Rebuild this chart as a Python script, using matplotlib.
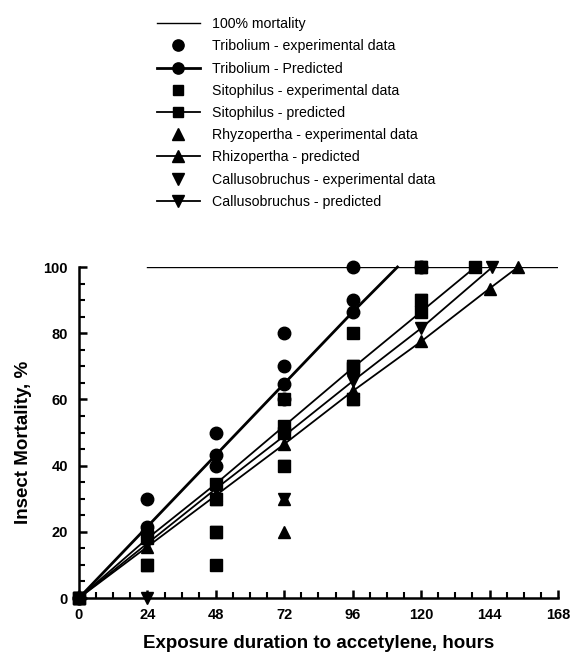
import numpy as np
import matplotlib
matplotlib.use("Agg")
import matplotlib.pyplot as plt
from matplotlib.ticker import MultipleLocator

plt.rcParams['font.family']=['Liberation Sans','DejaVu Sans']

# 100% mortality reference line
full_x=[24,168]
full_y=[100,100]

# experimental data (hours, % mortality)
trib_exp_x=[0,24,24,48,48,72,72,72,96,96,120]
trib_exp_y=[0,30,20,50,40,80,70,60,100,90,100]
sito_exp_x=[0,24,48,48,48,72,72,72,96,96,96,120,120]
sito_exp_y=[0,10,10,20,30,40,50,60,60,70,80,90,100]
rhyz_exp_x=[0,24,48,48,72,72,96,96,120,120]
rhyz_exp_y=[0,10,20,30,20,30,60,70,90,100]
call_exp_x=[0,24,24,48,48,72,72,96,96,120,120]
call_exp_y=[0,0,10,20,30,30,40,60,70,90,100]

# predicted curves
trib_pred_x=[0,24,48,72,96,111.7]
trib_pred_y=[0,21.6,43.2,64.8,86.4,100]
sito_pred_x=[0,24,48,72,96,120,139]
sito_pred_y=[0,18,34.5,52,69.5,86.5,100]
rhyz_pred_x=[0,24,48,72,96,120,144,154]
rhyz_pred_y=[0,15.5,31,46.5,62.5,77.5,93.5,100]
call_pred_x=[0,24,48,72,96,120,145]
call_pred_y=[0,16.5,33,49,65.5,81.5,100]

fig=plt.figure(figsize=(5.72,6.53),dpi=100)
ax=fig.add_axes([79/572,1-598/653,479/572,331/653])

ax.plot(full_x,full_y,color="black",lw=1,label="100% mortality")
ax.plot(trib_exp_x,trib_exp_y,ls="none",marker="o",ms=9,color="black",clip_on=False,label="Tribolium - experimental data")
ax.plot(trib_pred_x,trib_pred_y,marker="o",ms=9,lw=2,color="black",markevery=[0,1,2,3,4],clip_on=False,label="Tribolium - Predicted")
ax.plot(sito_exp_x,sito_exp_y,ls="none",marker="s",ms=8,color="black",clip_on=False,label="Sitophilus - experimental data")
ax.plot(sito_pred_x,sito_pred_y,marker="s",ms=8,lw=1.3,color="black",clip_on=False,label="Sitophilus - predicted")
ax.plot(rhyz_exp_x,rhyz_exp_y,ls="none",marker="^",ms=9,color="black",clip_on=False,label="Rhyzopertha - experimental data")
ax.plot(rhyz_pred_x,rhyz_pred_y,marker="^",ms=9,lw=1.3,color="black",clip_on=False,label="Rhizopertha - predicted")
ax.plot(call_exp_x,call_exp_y,ls="none",marker="v",ms=9,color="black",clip_on=False,label="Callusobruchus - experimental data")
ax.plot(call_pred_x,call_pred_y,marker="v",ms=9,lw=1.3,color="black",clip_on=False,label="Callusobruchus - predicted")

ax.set_xlim(0,168)
ax.set_ylim(0,100)
ax.xaxis.set_major_locator(MultipleLocator(24))
ax.xaxis.set_minor_locator(MultipleLocator(6))
ax.yaxis.set_major_locator(MultipleLocator(20))
ax.yaxis.set_minor_locator(MultipleLocator(5))
for s in ["top","right"]:
	ax.spines[s].set_visible(False)
for s in ["left","bottom"]:
	ax.spines[s].set_linewidth(1.8)
ax.tick_params(which="major",direction="in",length=6,width=1.8,labelsize=10.5)
ax.tick_params(which="minor",direction="in",length=4,width=1.5)
ax.tick_params(axis="x",pad=7)
ax.tick_params(axis="y",pad=8)
for lab in ax.get_xticklabels()+ax.get_yticklabels():
	lab.set_fontweight("bold")

ax.set_xlabel("Exposure duration to accetylene, hours",fontsize=13.5,fontweight="bold")
ax.xaxis.set_label_coords(0.5,-0.112)
ax.set_ylabel("Insect Mortality, %",fontsize=13.5,fontweight="bold")
ax.yaxis.set_label_coords(-0.098,0.47)

fig.legend(loc="upper left",bbox_to_anchor=(150/572,1-10/653),frameon=False,
	fontsize=10.2,handlelength=3.0,handletextpad=0.85,labelspacing=0.58,borderpad=0,
	markerscale=0.9)

fig.savefig("out.png",dpi=100)
